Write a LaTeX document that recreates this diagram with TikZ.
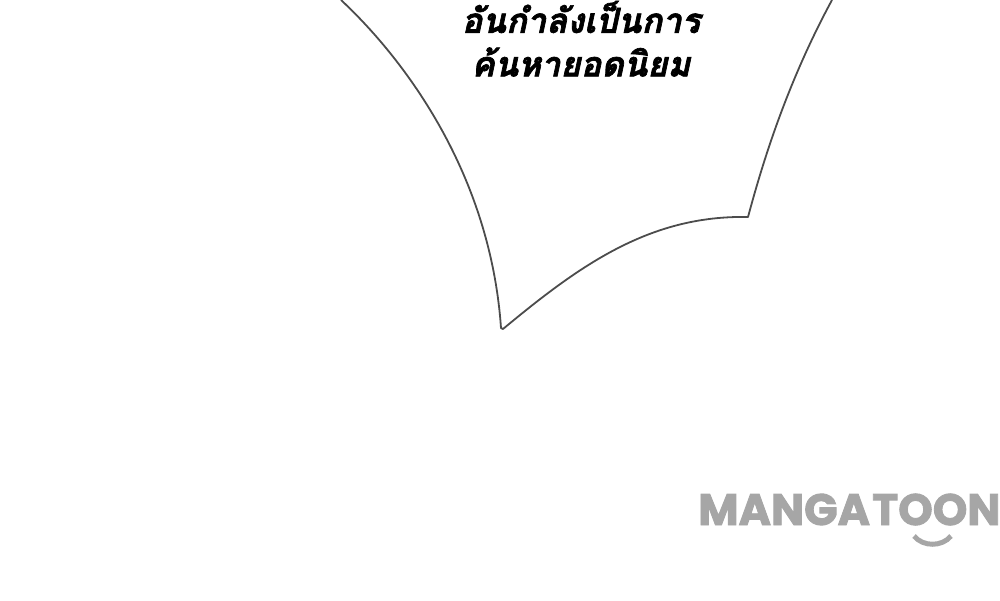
\documentclass[tikz,border=0pt]{standalone}
\usepackage{fontspec}
\newfontfamily\thaifont[Script=Thai,FakeBold=2]{Loma}
\setmainfont[BoldFeatures={FakeBold=2}]{Poppins}
\tikzset{bubble/.style={draw=black!70, line width=1.8pt, line join=round}}
\tikzset{brandtext/.style={text=black!35, inner sep=0pt, anchor=base west}}
\begin{document}
\begin{tikzpicture}[x=1pt,y=-1pt]
	\useasboundingbox (0, 0) rectangle (1000, 600);
	\draw [bubble] (341, 0) .. controls (400, 55) and (490, 169) .. (501, 328)
		-- (503, 329) .. controls (580, 265) and (650, 215) .. (748, 217)
		.. controls (762, 165) and (786, 85) .. (832, 0);
	\node (line1) at (581, 17) {\thaifont\bfseries\itshape\fontsize{34.5}{40}\selectfont อันกำลังเป็นการ};
	\node (line2) at (581, 62) {\thaifont\bfseries\itshape\fontsize{34.5}{40}\selectfont ค้นหายอดนิยม};
	\node [brandtext] (manga) at (698, 525) {\bfseries\fontsize{44}{48}\selectfont MANGA};
	\node [brandtext] (toon) at (872, 525) {\bfseries\fontsize{44}{48}\selectfont TOON};
	\draw [black!35, line width=5pt] (914, 536) .. controls (923, 547) and (942, 547) .. (951, 536);
\end{tikzpicture}
\end{document}
